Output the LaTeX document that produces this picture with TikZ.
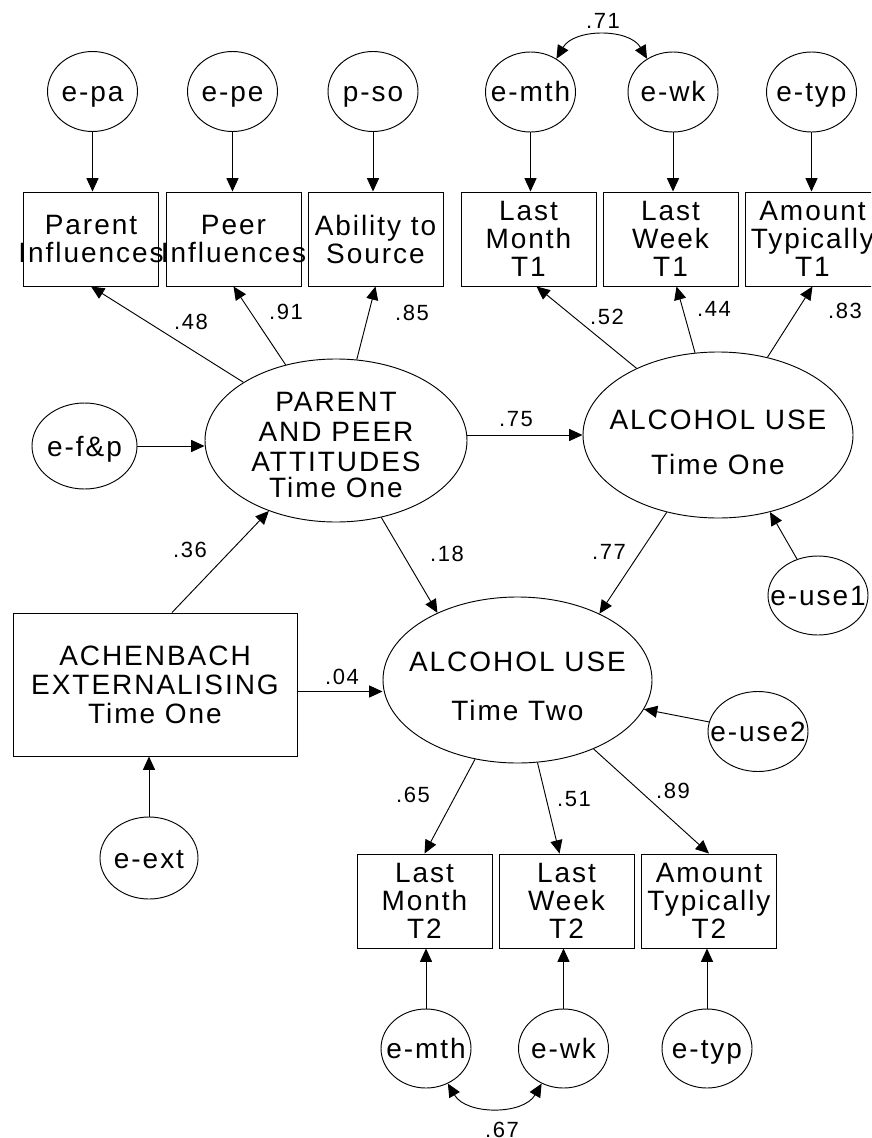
\documentclass[tikz,border=0pt]{standalone}
\usepackage{fontspec}
\setmainfont{Liberation Sans}[LetterSpace=7]
\usetikzlibrary{arrows.meta,calc,shapes.geometric}
\begin{document}
\begin{tikzpicture}[x=0.75pt,y=-0.75pt, line width=0.7pt,
  every node/.style={font=\fontsize{21}{21}\selectfont},
  arr/.style={-{Triangle[length=10pt,width=9pt]}},
  arrb/.style={{Triangle[length=10pt,width=9pt]}-{Triangle[length=10pt,width=9pt]}},
  obs/.style={draw, rectangle, inner sep=0pt, minimum width=101.25pt, minimum height=70.5pt,
    label={[align=center, inner sep=0pt]center:{#1}}},
  err/.style={draw, ellipse, inner sep=0pt, minimum width=67.5pt, minimum height=60pt,
    label={[inner sep=0pt, text height=15pt, text depth=0pt]center:{#1}}},
  lat/.style={draw, ellipse, inner sep=0pt},
  coef/.style={font=\fontsize{16.5}{16.5}\selectfont, inner sep=0pt},
]
\useasboundingbox (0,0) rectangle (871,1138);
\clip (0,0) rectangle (871,1138);

% error terms top
\node[err=e-pa] (epa) at (92.5,91.5) {};
\node[err=e-pe] (epe) at (232.5,91.5) {};
\node[err=p-so] (pso) at (373,91.5) {};
\node[err=e-mth] (emth1) at (530.5,92) {};
\node[err=e-wk] (ewk1) at (673,92) {};
\node[err=e-typ] (etyp1) at (811.5,92) {};

% observed top
\node[obs={Parent\\Influences}] (pi) at (91,239) {};
\node[obs={Peer\\Influences}] (pe) at (233.5,239) {};
\node[obs={Ability to\\Source}] (as) at (375.5,239) {};
\node[obs={Last\\Month\\T1}] (lm1) at (528.5,239) {};
\node[obs={Last\\Week\\T1}] (lw1) at (670.5,239) {};
\node[obs={Amount\\Typically\\T1}] (at1) at (812.5,239) {};

% latent
\node[lat, minimum width=196.5pt, minimum height=122.25pt,
  label={[align=center,inner sep=0pt,yshift=-3pt]center:{PARENT\\[1.5pt]AND PEER\\[1.5pt]ATTITUDES\\[-1.5pt]Time One}}] (parent) at (336,440.5) {};
\node[lat, minimum width=202.5pt, minimum height=124.5pt,
  label={[align=center,inner sep=0pt,yshift=-5.6pt]center:{ALCOHOL USE\\[12.75pt]Time One}}] (alc1) at (718,435) {};
\node[lat, minimum width=201.75pt, minimum height=124.5pt,
  label={[align=center,inner sep=0pt,yshift=-4.5pt]center:{ALCOHOL USE\\[15.75pt]Time Two}}] (alc2) at (517.5,680) {};

\node[err={e-f\&p}, minimum width=78.75pt, minimum height=64.5pt] (efp) at (84.5,446) {};
\node[err=e-use1, minimum width=75pt, minimum height=59.25pt] (euse1) at (818,595.5) {};
\node[err=e-use2, minimum width=75pt, minimum height=60pt] (euse2) at (758,731.5) {};

\node[draw, rectangle, inner sep=0pt, minimum width=213pt, minimum height=107.25pt,
  label={[align=center,inner sep=0pt]center:{ACHENBACH\\[0.75pt]EXTERNALISING\\[0.75pt]Time One}}] (ach) at (155,684.5) {};
\node[err=e-ext, minimum width=73.5pt, minimum height=61.5pt] (eext) at (149,858) {};

% observed bottom
\node[obs={Last\\Month\\T2}] (lm2) at (424.5,901) {};
\node[obs={Last\\Week\\T2}] (lw2) at (566.5,901) {};
\node[obs={Amount\\Typically\\T2}] (at2) at (709,901) {};

\node[err=e-mth, minimum height=59.25pt] (emth2) at (426,1048.5) {};
\node[err=e-wk, minimum height=59.25pt] (ewk2) at (563.5,1048.5) {};
\node[err=e-typ, minimum height=59.25pt] (etyp2) at (707,1048.5) {};

% connectors: error -> indicators
\draw[arr] (epa) -- (epa |- pi.north);
\draw[arr] (epe) -- (epe |- pe.north);
\draw[arr] (pso) -- (pso |- as.north);
\draw[arr] (emth1) -- (emth1 |- lm1.north);
\draw[arr] (ewk1) -- (ewk1 |- lw1.north);
\draw[arr] (etyp1) -- (etyp1 |- at1.north);
\draw[arrb] (emth1.52) to[bend left=60] (ewk1.128);

% loadings
\draw[arr] (parent) -- (pi.south);
\draw[arr] (parent) -- (pe.south);
\draw[arr] (parent) -- (as.south);
\draw[arr] (alc1) -- ($(lm1.south)+(8,0)$);
\draw[arr] (alc1) -- ($(lw1.south)+(6,0)$);
\draw[arr] (alc1) -- (at1.south);

% structural
\draw[arr] (efp.east) -- (efp.east -| parent.west);
\draw[arr] (parent.east |- alc1.west) -- (alc1.west);
\draw[arr] ($(ach.north)+(17,0)$) -- (parent);
\draw[arr] (eext) -- (eext |- ach.south);
\draw[arr] ($(ach.east)+(0,7)$) coordinate (a04) -- (a04 -| alc2.west);
\draw[arr] (parent) -- (alc2.140);
\draw[arr] (alc1) -- (alc2.39);
\draw[arr] (euse1) -- (alc1.304);
\draw[arr] (euse2) -- (alc2.347);

% bottom loadings
\draw[arr] (alc2) -- (lm2.north);
\draw[arr] (alc2) -- ($(lw2.north)+(-7,0)$);
\draw[arr] (alc2) -- (at2.north);
\draw[arr] (emth2) -- (emth2 |- lm2.south);
\draw[arr] (ewk2) -- (ewk2 |- lw2.south);
\draw[arr] (etyp2) -- (etyp2 |- at2.south);
\draw[arrb] (emth2.302) to[bend right=60] (ewk2.238);

% coefficients
\node[coef] (c48) at (191,322) {.48};
\node[coef] (c91) at (286,312) {.91};
\node[coef] (c85) at (412,313) {.85};
\node[coef] (c52) at (607,317) {.52};
\node[coef] (c44) at (714,309) {.44};
\node[coef] (c83) at (845,311) {.83};
\node[coef] (c71) at (603,21) {.71};
\node[coef] (c75) at (516,419) {.75};
\node[coef] (c36) at (190,550) {.36};
\node[coef] (c04) at (342,677) {.04};
\node[coef] (c18) at (447,554) {.18};
\node[coef] (c77) at (609,552) {.77};
\node[coef] (c65) at (413,795) {.65};
\node[coef] (c51) at (574,799) {.51};
\node[coef] (c89) at (673,791) {.89};
\node[coef] (c67) at (502,1130) {.67};
\end{tikzpicture}
\end{document}
